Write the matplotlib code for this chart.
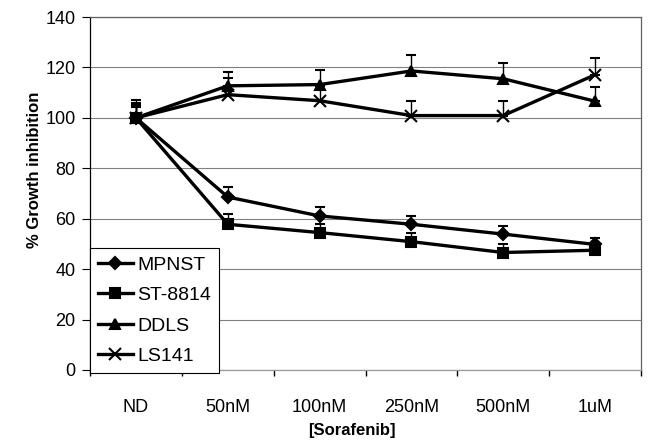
import matplotlib
matplotlib.use("Agg")
import matplotlib.pyplot as plt
from matplotlib.lines import Line2D
import numpy as np

plt.rcParams['font.family'] = ['Liberation Sans', 'DejaVu Sans']

categories = ['ND', '50nM', '100nM', '250nM', '500nM', '1uM']

mpnst = [100, 68.6, 61.1, 57.8, 53.9, 49.8]
mpnst_err = [5.9, 3.9, 3.5, 3.3, 3.3, 2.7]
st8814 = [100, 57.8, 54.5, 50.9, 46.6, 47.5]
st8814_err = [4.5, 4.0, 3.5, 3.3, 3.3, 2.5]
ddls = [100, 112.7, 113.2, 118.6, 115.5, 106.6]
ddls_err = [7.2, 5.6, 5.9, 6.2, 6.3, 5.5]
ls141 = [100, 109.2, 106.8, 100.9, 100.9, 117.1]
ls141_err = [5.0, 6.5, 6.0, 5.6, 5.9, 6.7]

series = [
    ('MPNST', mpnst, mpnst_err, 'D', 6.5),
    ('ST-8814', st8814, st8814_err, 's', 7),
    ('DDLS', ddls, ddls_err, '^', 7.5),
    ('LS141', ls141, ls141_err, 'x', 8.5),
]

fig = plt.figure(figsize=(6.49, 4.41), dpi=100)
ax = fig.add_axes([90/649, 71/441, 551/649, 353/441])

x = np.arange(len(categories))
handles = []
for name, vals, err, mk, ms in series:
    yerr = [np.zeros(len(err)), err]
    ax.errorbar(x, vals, yerr=yerr, color='black', lw=2.4, marker=mk, ms=ms,
                mew=1.5, ecolor='black', elinewidth=1, capsize=3.8, capthick=1,
                zorder=3)
    handles.append(Line2D([], [], color='black', lw=2.4, marker=mk, ms=ms,
                          mew=1.5, label=name))

ax.set_ylim(0, 140)
ax.set_yticks(np.arange(0, 141, 20))
ax.set_xlim(-0.5, len(categories) - 0.5)
ax.set_xticks(x)
ax.set_xticklabels(categories)
ax.set_xticks(np.arange(-0.5, len(categories), 1), minor=True)

ax.grid(axis='y', color='#808080', lw=0.8)
ax.set_axisbelow(True)

ax.tick_params(axis='x', which='major', length=0, pad=21, labelsize=13)
ax.tick_params(axis='x', which='minor', length=4, width=1, direction='out')
ax.tick_params(axis='y', length=5.5, width=0.8, pad=5, labelsize=13)

ax.spines['left'].set_color('black')
ax.spines['bottom'].set_color('#999999')
ax.spines['top'].set_color('#606060')
ax.spines['right'].set_color('#606060')
for s in ax.spines.values():
    s.set_linewidth(0.9)

fig.text(35/649, 1 - 170/441, '% Growth inhibition', rotation=90, fontsize=12,
         fontweight='bold', ha='center', va='center')
fig.text(352/649, 1 - 431/441, '[Sorafenib]', fontsize=12, fontweight='bold',
         ha='center', va='center')

leg = ax.legend(handles=handles, loc='lower left', bbox_to_anchor=(0, -0.008),
                borderaxespad=0, fontsize=14, frameon=True, fancybox=False,
                framealpha=1, edgecolor='black', handlelength=1.8,
                handletextpad=0.24, borderpad=0.4, labelspacing=0.66)
leg.get_frame().set_linewidth(0.8)
leg.set_zorder(5)

fig.savefig('out.png', dpi=100)
